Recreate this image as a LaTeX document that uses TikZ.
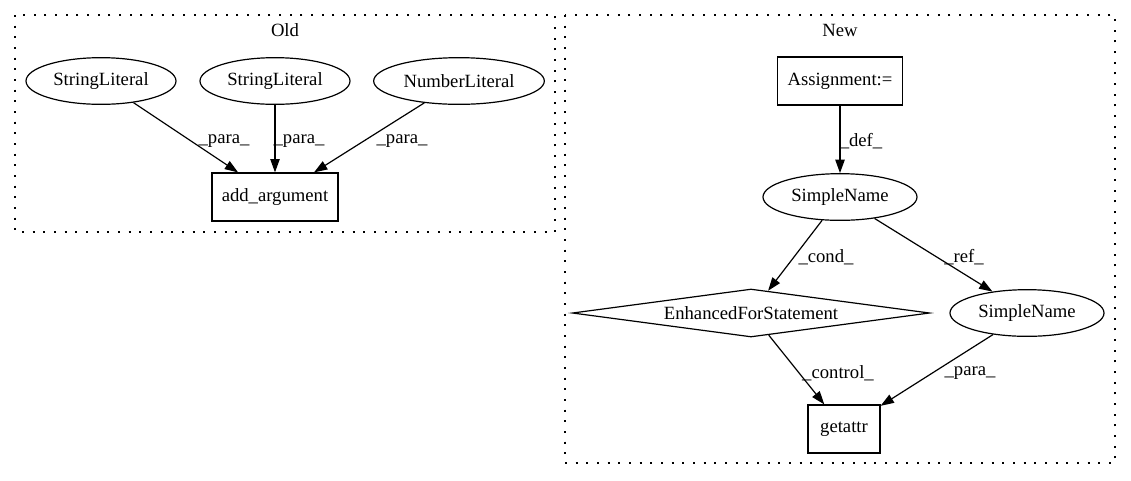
\documentclass[tikz,border=0pt]{standalone}
\usepackage{fontspec}
\setmainfont{Liberation Serif}
\usetikzlibrary{shapes.geometric,arrows.meta}

\tikzset{
  every node/.style={font=\fontsize{14}{16}\selectfont, inner sep=0pt},
  oval/.style={draw, ellipse, line width=0.9pt, minimum height=35pt},
  box/.style={draw, rectangle, line width=0.9pt, minimum height=36pt},
  decision/.style={draw, diamond, aspect=7.4, line width=0.9pt, minimum width=268pt, minimum height=36pt},
  cluster/.style={line width=0.9pt, dash pattern=on 1.5pt off 6.5pt},
  edge/.style={line width=0.9pt, -{Triangle[length=10pt,width=7pt]}}
}

\begin{document}
\begin{tikzpicture}[x=0.75pt,y=-0.75pt]
    % Fix the canvas to the size of the reference
    \useasboundingbox (0,0) rectangle (1131,480);

    % Draw the two dotted clusters with their titles
    \draw[cluster] (15,15) rectangle (555,232);
    \draw[cluster] (565,15) rectangle (1115,463);
    \node (oldtitle) at (285,30) {Old};
    \node (newtitle) at (840,30) {New};

    % Nodes of the old version
    \node[oval, minimum width=112.5pt] (str1) at (101,81) {StringLiteral};
    \node[oval, minimum width=112.5pt] (str2) at (275,81) {StringLiteral};
    \node[oval, minimum width=128pt] (num) at (459,81) {NumberLiteral};
    \node[box, minimum width=94.5pt] (addarg) at (275,197) {add\_argument};

    % Nodes of the new version
    \node[box, minimum width=94pt] (assign) at (840,81) {Assignment:=};
    \node[oval, minimum width=115.5pt] (name1) at (840,197) {SimpleName};
    \node[decision] (loop) at (751,313) {EnhancedForStatement};
    \node[oval, minimum width=115.5pt] (name2) at (1027,313) {SimpleName};
    \node[box, minimum width=54pt] (getattr) at (844,429) {getattr};

    % Edges of the old version
    \draw[edge] (str1) -- (addarg);
    \draw[edge] (str2) -- (addarg);
    \draw[edge] (num) -- (addarg);
    \node (para1) at (224,141) {\_para\_};
    \node (para2) at (299,141) {\_para\_};
    \node (para3) at (402,141) {\_para\_};

    % Edges of the new version
    \draw[edge] (assign) -- (name1);
    \draw[edge] (name1) -- (loop);
    \draw[edge] (name1) -- (name2);
    \draw[edge] (loop) -- (getattr);
    \draw[edge] (name2) -- (getattr);
    \node (def) at (861,141) {\_def\_};
    \node (cond) at (826,257) {\_cond\_};
    \node (ref) at (964,257) {\_ref\_};
    \node (control) at (838,373) {\_control\_};
    \node (para4) at (970,373) {\_para\_};
\end{tikzpicture}
\end{document}
